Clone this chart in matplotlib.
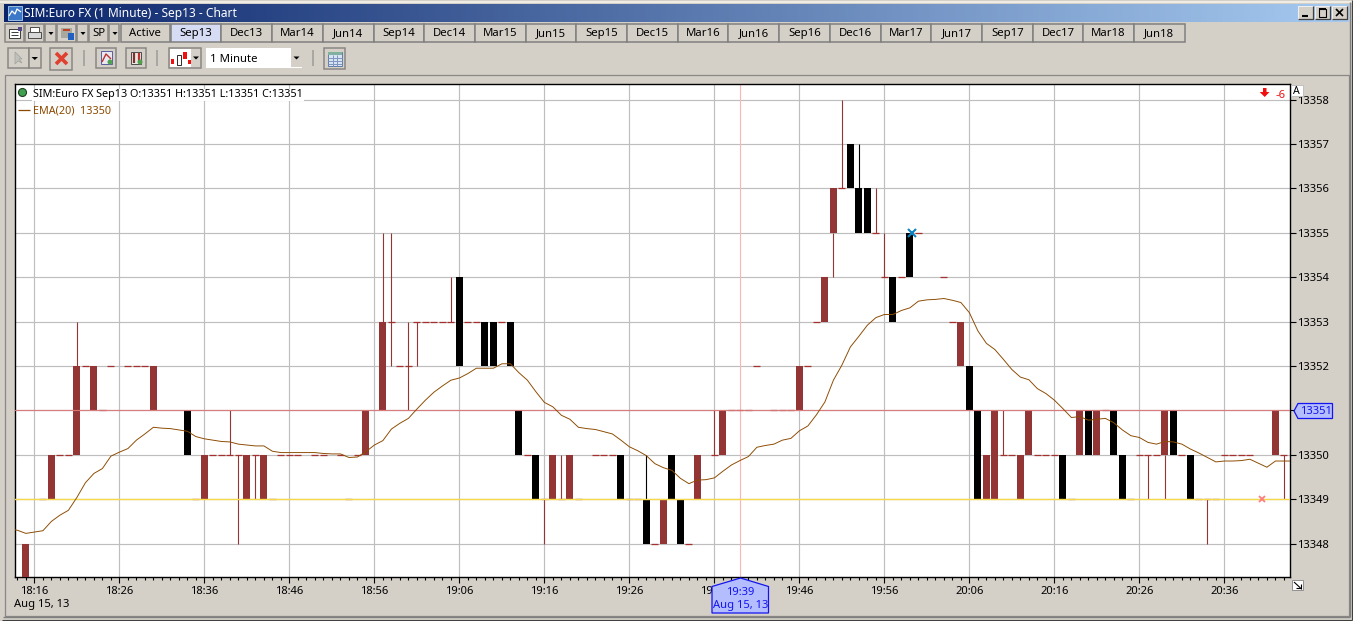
import numpy as np
import matplotlib
matplotlib.use("Agg")
import matplotlib.pyplot as plt
from matplotlib.patches import Rectangle, Polygon, Circle
from matplotlib.ticker import MultipleLocator, FuncFormatter

plt.rcParams['font.family'] = ['Noto Sans', 'DejaVu Sans']

# ---------- data (minutes after 18:16, prices) ----------
up_minutes = [-1, 2, 5, 7, 14, 20, 25, 27, 39, 41, 61, 63, 74, 78, 81, 90, 93, 94, 109, 112, 113, 116, 117, 123, 125, 133, 146]
up_open = [13347, 13349, 13350, 13351, 13351, 13349, 13349, 13349, 13350, 13351, 13349, 13349, 13348, 13349, 13350, 13351, 13353, 13355, 13352, 13349, 13349, 13349, 13350, 13350, 13350, 13350, 13350]
up_close = [13348, 13350, 13352, 13352, 13352, 13350, 13350, 13350, 13351, 13353, 13350, 13350, 13349, 13350, 13351, 13352, 13354, 13356, 13353, 13350, 13351, 13350, 13351, 13351, 13351, 13351, 13351]

down_minutes = [18, 50, 53, 54, 56, 57, 59, 69, 72, 75, 76, 96, 97, 98, 101, 103, 110, 111, 121, 124, 127, 128, 134, 136]
down_open = [13351, 13354, 13353, 13353, 13353, 13351, 13350, 13350, 13349, 13350, 13349, 13357, 13356, 13356, 13354, 13355, 13352, 13351, 13350, 13351, 13351, 13350, 13351, 13350]
down_close = [13350, 13352, 13352, 13352, 13352, 13350, 13349, 13349, 13348, 13349, 13348, 13356, 13355, 13355, 13353, 13354, 13351, 13349, 13349, 13350, 13350, 13349, 13350, 13349]

flat_minutes = [1, 3, 4, 6, 8, 9, 11, 12, 13, 19, 21, 22, 23, 24, 26, 28, 29, 30, 31, 33, 34, 36, 37, 38, 42, 43, 44, 45, 46, 47, 48, 49, 51, 52, 55, 58, 60, 62, 64, 66, 67, 68, 70, 71, 73, 77, 80, 82, 83, 84, 85, 87, 88, 89, 91, 92, 95, 99, 100, 102, 104, 107, 108, 114, 115, 118, 119, 120, 122, 126, 129, 130, 131, 132, 135, 137, 138, 139, 140, 141, 142, 143, 147]
flat_price = [13349, 13350, 13350, 13352, 13351, 13352, 13352, 13352, 13352, 13349, 13350, 13350, 13350, 13350, 13350, 13349, 13350, 13350, 13350, 13350, 13350, 13350, 13349, 13350, 13353, 13352, 13352, 13353, 13353, 13353, 13353, 13353, 13353, 13353, 13353, 13350, 13349, 13349, 13349, 13350, 13350, 13350, 13349, 13349, 13348, 13348, 13350, 13351, 13351, 13351, 13352, 13351, 13351, 13351, 13352, 13353, 13356, 13355, 13354, 13354, 13355, 13354, 13353, 13350, 13350, 13350, 13350, 13350, 13349, 13351, 13349, 13350, 13350, 13350, 13350, 13349, 13349, 13349, 13350, 13350, 13350, 13350, 13350]

wick_minutes = [5, 23, 24, 26, 41, 42, 44, 45, 49, 60, 62, 80, 94, 95, 99, 100, 114, 131, 133, 138, 147]
wick_low = [13352, 13350, 13348, 13349, 13353, 13352, 13351, 13352, 13353, 13348, 13349, 13350, 13354, 13356, 13355, 13354, 13350, 13349, 13349, 13348, 13349]
wick_high = [13353, 13351, 13350, 13350, 13355, 13355, 13353, 13353, 13354, 13349, 13350, 13351, 13355, 13358, 13356, 13355, 13351, 13350, 13350, 13349, 13350]
black_wick_minutes = [72, 97]
black_wick_low = [13349, 13356]
black_wick_high = [13350, 13357]

ema_minutes = list(range(-3, 149))
ema_values = [13348.34, 13348.30, 13348.23, 13348.26, 13348.29, 13348.50, 13348.64, 13348.75, 13349.04, 13349.37,
              13349.58, 13349.69, 13349.97, 13350.06, 13350.14, 13350.33, 13350.47, 13350.62, 13350.60, 13350.59,
              13350.56, 13350.53, 13350.41, 13350.36, 13350.33, 13350.30, 13350.29, 13350.24, 13350.22, 13350.20,
              13350.20, 13350.08, 13350.05, 13350.05, 13350.05, 13350.05, 13350.05, 13350.03, 13350.02, 13350.02,
              13349.94, 13349.95, 13350.07, 13350.22, 13350.32, 13350.58, 13350.71, 13350.82, 13351.03, 13351.23,
              13351.41, 13351.55, 13351.68, 13351.73, 13351.83, 13351.95, 13351.95, 13351.95, 13352.05, 13352.05,
              13351.85, 13351.68, 13351.42, 13351.18, 13351.08, 13350.89, 13350.80, 13350.62, 13350.59, 13350.57,
              13350.52, 13350.47, 13350.33, 13350.18, 13350.09, 13349.98, 13349.80, 13349.71, 13349.65, 13349.47,
              13349.35, 13349.43, 13349.44, 13349.48, 13349.63, 13349.77, 13349.87, 13349.96, 13350.17, 13350.21,
              13350.24, 13350.33, 13350.37, 13350.54, 13350.65, 13350.90, 13351.19, 13351.68, 13352.02, 13352.43,
              13352.67, 13352.92, 13353.09, 13353.16, 13353.16, 13353.25, 13353.31, 13353.46, 13353.49, 13353.50,
              13353.52, 13353.48, 13353.43, 13353.20, 13352.79, 13352.51, 13352.37, 13352.15, 13351.92, 13351.75,
              13351.69, 13351.49, 13351.38, 13351.23, 13351.04, 13350.84, 13350.86, 13350.78, 13350.80, 13350.82,
              13350.72, 13350.56, 13350.43, 13350.39, 13350.28, 13350.24, 13350.30, 13350.29, 13350.24, 13350.13,
              13350.04, 13349.94, 13349.84, 13349.86, 13349.86, 13349.87, 13349.90, 13349.81, 13349.72, 13349.86,
              13349.86, 13349.86]

contracts = ['Active', 'Sep13', 'Dec13', 'Mar14', 'Jun14', 'Sep14', 'Dec14', 'Mar15', 'Jun15', 'Sep15', 'Dec15',
             'Mar16', 'Jun16', 'Sep16', 'Dec16', 'Mar17', 'Jun17', 'Sep17', 'Dec17', 'Mar18', 'Jun18']
y_ticks = [13348, 13349, 13350, 13351, 13352, 13353, 13354, 13355, 13356, 13357, 13358]
last_price = 13351
band_price = 13349
cursor_minute = 83
entry_marker = (103.3, 13355)
exit_marker = (144.4, 13349)

# ---------- figure + chrome ----------
W, H = 1353, 621
BG = '#D4D0C8'
GRID = '#BEBEBE'
BROWN = '#943535'
DASH = '#A53030'
EMA = '#8B4A00'
BLUE = '#1414F0'
LBLUE = '#B4BEFF'
FS = 7.75

fig = plt.figure(figsize=(W / 100, H / 100), dpi=100, facecolor=BG)
chrome = fig.add_axes([0, 0, 1, 1], zorder=0)
chrome.set_xlim(0, W)
chrome.set_ylim(H, 0)
chrome.axis('off')


def rect(a, x0, y0, x1, y1, fc='none', ec='none', lw=0.72, z=2):
    a.add_patch(Rectangle((x0, y0), x1 - x0, y1 - y0, facecolor=fc, edgecolor=ec, linewidth=lw, zorder=z))


def line(a, xs, ys, c, lw=0.72, z=3):
    a.plot(xs, ys, color=c, lw=lw, zorder=z, solid_capstyle='butt')


def button(a, x0, y0, x1, y1):
    rect(a, x0, y0, x1, y1, fc=BG, ec='#8A8884', lw=1.1)


# outer window
line(chrome, [0, W], [1.5, 1.5], '#F4F2EC', lw=1.2)
line(chrome, [1349.5, 1349.5], [2, 617], '#808080', lw=1)
line(chrome, [3, 1350], [616.5, 616.5], '#808080', lw=1)
line(chrome, [2, 1352], [619.5, 619.5], '#404040', lw=0.8)
line(chrome, [1352, 1352], [0, 620], '#404040', lw=0.8)

# title bar gradient
grad = np.linspace(0, 1, 256).reshape(1, -1, 1)
c0, c1 = np.array([10, 36, 106]) / 255, np.array([166, 202, 240]) / 255
chrome.imshow(c0 + (c1 - c0) * grad, extent=(4, 1349, 22, 4), aspect='auto', zorder=1)
chrome.set_xlim(0, W)
chrome.set_ylim(H, 0)
rect(chrome, 8, 6, 22, 20, fc='#3C78C8', ec='#B0D0F0', lw=0.6)
line(chrome, [9, 12, 15, 17, 21], [16, 11, 14, 9, 12], 'white', lw=0.9)
chrome.text(23.5, 13.5, 'SIM:Euro FX (1 Minute) - Sep13 - Chart', color='white', fontsize=8.6,
            fontweight='bold', va='center', ha='left')

# window buttons
for x0, glyph in zip([1298, 1315, 1332], ['min', 'max', 'close']):
    rect(chrome, x0, 6, x0 + 15, 19, fc=BG, ec='#F0F0F0', lw=0.7)
    line(chrome, [x0 + 15, x0 + 15, x0], [6, 19, 19], '#404040', lw=0.9)
    if glyph == 'min':
        line(chrome, [x0 + 4, x0 + 10], [16, 16], 'black', lw=1.5)
    elif glyph == 'max':
        rect(chrome, x0 + 3.5, 8.5, x0 + 11, 16.5, ec='black', lw=0.8, z=4)
        line(chrome, [x0 + 3.5, x0 + 11], [9, 9], 'black', lw=1.4, z=4)
    else:
        line(chrome, [x0 + 4, x0 + 11], [9, 16], 'black', lw=1.2, z=4)
        line(chrome, [x0 + 4, x0 + 11], [16, 9], 'black', lw=1.2, z=4)

# first toolbar
for x0, x1 in [(5, 24), (25, 44), (45, 56), (57, 76), (77, 88), (89, 108), (109, 119)]:
    button(chrome, x0, 23.5, x1, 42)
for x0 in (45, 77, 109):
    chrome.add_patch(Polygon([[x0 + 3.5, 32], [x0 + 8.5, 32], [x0 + 6, 35]], fc='black', ec='none', zorder=4))
rect(chrome, 9, 29, 20, 38, fc='white', ec='#404040', z=4)
line(chrome, [11, 18], [32, 32], '#404040', z=5)
line(chrome, [11, 18], [35, 35], '#404040', z=5)
rect(chrome, 18, 27, 22, 31, fc='#504888', z=5)
rect(chrome, 28, 32, 41, 38, fc='#D8D8D8', ec='#505050', z=4)
rect(chrome, 30, 27, 39, 32, fc='white', ec='#505050', z=4)
rect(chrome, 61, 28, 72, 38, fc='#A8A8A0', z=4)
rect(chrome, 68, 33, 74, 40, fc='#2060C0', z=5)
line(chrome, [63, 70], [30, 30], '#C04020', lw=1.4, z=5)
chrome.text(99, 33.5, 'SP', fontsize=FS + 0.4, ha='center', va='center', color='black', zorder=5)

tab_w = (1184.7 - 170.7) / 20
tab_left = [120.5] + [170.7 + tab_w * k for k in range(20)]
tab_right = [169.5] + [170.7 + tab_w * (k + 1) for k in range(20)]
for name, x0, x1 in zip(contracts, tab_left, tab_right):
    fc = '#D6DCF4' if name == 'Sep13' else BG
    rect(chrome, x0, 23.5, x1, 42.3, fc=fc, ec='#808080', lw=1.1)
    chrome.text((x0 + x1) / 2, 33.5, name, fontsize=FS + 0.4, ha='center', va='center', color='black', zorder=4)

# second toolbar
button(chrome, 8, 47.5, 29, 68)
button(chrome, 29, 47.5, 41, 68)
chrome.add_patch(Polygon([[31.5, 57], [38, 57], [34.8, 60]], fc='black', ec='none', zorder=4))
chrome.add_patch(Polygon([[15, 52], [15, 64], [18, 61], [22, 63], [19, 59], [22, 59]], fc='#C0C0BC', ec='#A0A09C', lw=0.5, zorder=4))
button(chrome, 50, 47.5, 72, 70)
line(chrome, [56, 67], [53, 64], '#E04030', lw=2.6, z=4)
line(chrome, [56, 67], [64, 53], '#E04030', lw=2.6, z=4)
line(chrome, [84, 84], [50, 66], '#A8A6A0', lw=1.4)
button(chrome, 96, 47.5, 116, 68)
rect(chrome, 101, 51, 112, 64, fc='#E8E8F0', ec='#6060A0', z=4)
line(chrome, [102, 106, 111], [62, 54, 59], '#C03030', lw=1, z=5)
chrome.add_patch(Circle((110, 62), 2.5, fc='#50A050', ec='none', zorder=5))
button(chrome, 126, 47.5, 146, 68)
rect(chrome, 131, 52, 141, 64, fc='#E8E8E0', ec='#505050', z=4)
line(chrome, [134, 134], [53, 63], '#803030', lw=1.6, z=5)
line(chrome, [139, 139], [53, 61], '#C03030', lw=1.6, z=5)
chrome.add_patch(Circle((140, 62), 2.5, fc='#50A050', ec='none', zorder=5))
line(chrome, [157, 157], [50, 66], '#A8A6A0', lw=1.4)
button(chrome, 169, 47.5, 201, 68)
rect(chrome, 170, 48.5, 191, 67, fc='white', z=3)
rect(chrome, 171, 59, 174, 64, fc='#F01010', z=4)
rect(chrome, 176.5, 55, 181, 65, fc='white', ec='#303030', z=4)
rect(chrome, 182.5, 52, 187, 59, fc='#F01010', z=4)
rect(chrome, 188, 60, 191, 64, fc='#F01010', z=4)
chrome.add_patch(Polygon([[193, 56.5], [199, 56.5], [196, 59.5]], fc='black', ec='none', zorder=4))
rect(chrome, 206, 47.5, 302, 68, fc='white', z=3)
chrome.text(210, 59, '1 Minute', fontsize=FS + 0.4, ha='left', va='center', color='black', zorder=4)
rect(chrome, 291, 48, 301.5, 67, fc=BG, z=4)
chrome.add_patch(Polygon([[293.5, 56.5], [299.5, 56.5], [296.5, 59.5]], fc='black', ec='none', zorder=5))
line(chrome, [313, 313], [50, 66], '#A8A6A0', lw=1.4)
button(chrome, 324, 47.5, 345, 69)
rect(chrome, 328, 52, 342, 66, fc='#D8E4F4', ec='#6080A8', z=4)
rect(chrome, 328, 52, 342, 55, fc='#80B0A0', z=5)
for yy in (58, 61, 64):
    line(chrome, [328, 342], [yy, yy], '#8098C0', z=5)
for xx in (333, 337):
    line(chrome, [xx, xx], [55, 66], '#8098C0', z=5)

# group box around the chart
rect(chrome, 4.5, 74.5, 1348.5, 616, ec='#8A8884', lw=0.9)

# ---------- chart ----------
AL, AR, AT, AB = 14.5, 1289.5, 84, 577
ax = fig.add_axes([AL / W, 1 - AB / H, (AR - AL) / W, (AB - AT) / H], zorder=2, facecolor='white')
PX_MIN, PX_UNIT, X0, Y51 = 8.5, 44.4, 34.4, 410.4
ax.set_xlim((AL - X0) / PX_MIN, (AR - X0) / PX_MIN)
ax.set_ylim(last_price - (AB - Y51) / PX_UNIT, last_price + (Y51 - AT) / PX_UNIT)

ax.bar(up_minutes, np.array(up_close) - np.array(up_open), bottom=up_open, width=0.82, color=BROWN, linewidth=0, zorder=3)
ax.bar(down_minutes, np.array(down_close) - np.array(down_open), bottom=down_open, width=0.82, color='black', linewidth=0, zorder=3)
ax.vlines(wick_minutes, wick_low, wick_high, color=BROWN, lw=0.8, zorder=3)
ax.vlines(black_wick_minutes, black_wick_low, black_wick_high, color='black', lw=0.8, zorder=3)
ax.hlines(flat_price, np.array(flat_minutes) - 0.41, np.array(flat_minutes) + 0.41, color=DASH, lw=0.9, zorder=2.5)
ax.axhline(last_price, color='#D97A7A', lw=0.85, alpha=0.95, zorder=3.5)
ax.axhline(band_price, color='#F5D94A', lw=1.0, zorder=3.5)
ax.axvline(cursor_minute, color='#FFB4B4', lw=0.8, zorder=1.5)
ax.plot(ema_minutes, ema_values, color=EMA, lw=0.68, zorder=4)
ax.plot(*entry_marker, marker='x', ms=5.5, mew=1.5, color='#1082C0', zorder=5, linestyle='none')
ax.plot(*exit_marker, marker='x', ms=4.5, mew=1.3, color='#FF7C7C', zorder=5, linestyle='none')

ax.grid(True, which='major', color=GRID, lw=0.85, zorder=1)
ax.set_axisbelow(True)
ax.xaxis.set_major_locator(MultipleLocator(10))
ax.xaxis.set_minor_locator(MultipleLocator(1))
ax.xaxis.set_major_formatter(FuncFormatter(lambda v, _: f'{(18 * 60 + 16 + int(v)) // 60}:{(18 * 60 + 16 + int(v)) % 60:02d}'))
ax.set_yticks(y_ticks)
ax.yaxis.tick_right()
ax.tick_params(axis='x', which='major', length=4.2, width=0.8, labelsize=FS + 0.3, pad=2.2, color='black')
ax.tick_params(axis='x', which='minor', length=2.2, width=0.8, color='black')
ax.tick_params(axis='y', which='major', length=4.2, width=0.8, labelsize=FS + 0.3, pad=1.5, color='black')
ax.ticklabel_format(axis='y', useOffset=False, style='plain')
for s in ax.spines.values():
    s.set_color('black')
    s.set_linewidth(1.0)

# ---------- overlays ----------
top = fig.add_axes([0, 0, 1, 1], zorder=3, facecolor='none')
top.set_xlim(0, W)
top.set_ylim(H, 0)
top.axis('off')

top.add_patch(Circle((22.5, 92.5), 4, fc='#40A050', ec='#204020', lw=0.8))
top.text(33, 95, 'SIM:Euro FX Sep13 O:13351 H:13351 L:13351 C:13351', fontsize=FS, color='black', va='center', ha='left',
         bbox=dict(fc='white', ec='none', pad=0.6))
line(top, [18, 30], [110, 110], EMA, lw=0.9)
top.text(33, 111, 'EMA(20)  13350', fontsize=FS, color=EMA, va='center', ha='left')

top.add_patch(Polygon([[1263, 88], [1266.5, 88], [1266.5, 92], [1269.5, 92], [1264.7, 97], [1259.7, 92], [1263, 92]], fc='#F01010', ec='none'))
top.text(1281, 95.5, '-6', fontsize=FS + 0.3, color='#F01010', va='center', ha='center')
top.add_patch(Rectangle((1291, 84.5), 11.5, 11, fc='white', ec='#C0C0C0', lw=0.7, zorder=6, clip_on=False))
top.text(1296.7, 91, 'A', fontsize=7.6, color='black', va='center', ha='center', zorder=7)

top.add_patch(Polygon([[1294, 411], [1298, 403.5], [1332.5, 403.5], [1332.5, 418.5], [1298, 418.5]], fc=LBLUE, ec=BLUE, lw=0.9))
top.text(1315.5, 412, '13351', fontsize=FS + 0.3, color=BLUE, va='center', ha='center')

top.add_patch(Polygon([[740.5, 578], [768.5, 586.5], [768.5, 613], [712, 613], [712, 586.5]], fc=LBLUE, ec=BLUE, lw=0.9))
top.text(740.5, 592.3, '19:39', fontsize=FS + 0.3, color=BLUE, va='center', ha='center')
top.text(740.5, 605.8, 'Aug 15, 13', fontsize=FS + 0.3, color=BLUE, va='center', ha='center')

top.text(14, 604, 'Aug 15, 13', fontsize=FS + 0.3, color='black', va='center', ha='left')

rect(top, 1292, 580, 1302.5, 590, fc='white', ec='#909090', lw=0.7)
line(top, [1294, 1300.5], [582, 588], 'black', lw=0.8)
line(top, [1300.5, 1300.5], [584, 588.5], 'black', lw=0.8)
line(top, [1296, 1300.5], [588, 588], 'black', lw=0.8)

fig.savefig('out.png', dpi=100, facecolor=BG)
